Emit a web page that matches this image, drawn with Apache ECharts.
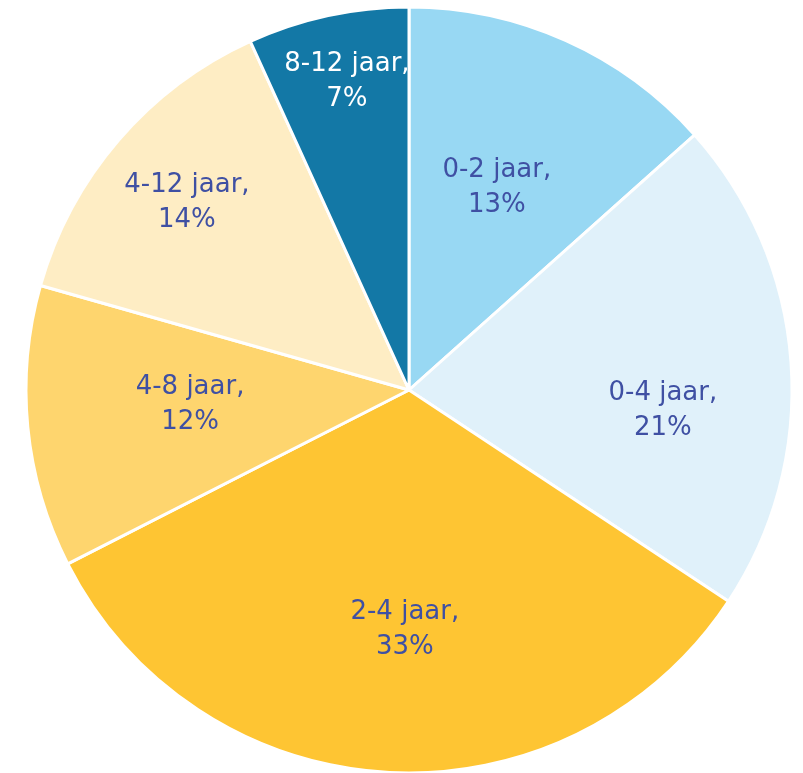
<!DOCTYPE html>
<html>
<head>
<meta charset="utf-8">
<script src="https://cdn.jsdelivr.net/npm/echarts@6/dist/echarts.min.js"></script>
<style>
  html, body { margin: 0; padding: 0; background: #fff; }
  #chart { width: 803px; height: 773px; }
</style>
</head>
<body>
<div id="chart"></div>
<script>
// leeftijdsgroepen, met de klok mee vanaf boven
var categories = ['0-2 jaar', '0-4 jaar', '2-4 jaar', '4-8 jaar', '4-12 jaar', '8-12 jaar']
var values = [13.4, 20.9, 33.2, 11.9, 13.8, 6.8]
var colors = ['#98d8f3', '#e0f1fa', '#fec533', '#fed56e', '#feedc4', '#1378a6']
// labelplek: afstand tot het midden (fractie van de straal) en hoek vanaf boven (graden)
var labelRadius = [0.575, 0.665, 0.627, 0.573, 0.758, 0.82]
var labelAngle = [23.5, 94.7, 181, 266.1, 310.1, 348.6]

var cx = 409, cy = 390, R = 383

var data = []
for (var i = 0; i < categories.length; i++) {
  data.push({
    name: categories[i],
    value: values[i],
    itemStyle: { color: colors[i] },
    label: { color: i === 5 ? '#ffffff' : '#3f50a3' }
  })
}

var chart = echarts.init(document.getElementById('chart'))
chart.setOption({
  animation: false,
  series: [{
    type: 'pie',
    center: [cx, cy],
    radius: [0, R],
    startAngle: 90,
    clockwise: true,
    data: data,
    itemStyle: { borderColor: '#ffffff', borderWidth: 3 },
    label: {
      show: true,
      position: 'inside',
      fontFamily: 'DejaVu Sans',
      fontSize: 26,
      lineHeight: 35,
      align: 'center',
      formatter: function (p) {
        return p.name + ',\n' + Math.round(p.value) + '%'
      }
    },
    labelLine: { show: false },
    labelLayout: function (p) {
      var a = labelAngle[p.dataIndex] * Math.PI / 180
      var d = labelRadius[p.dataIndex] * R
      return {
        x: cx + d * Math.sin(a),
        y: cy - d * Math.cos(a),
        align: 'center',
        verticalAlign: 'middle'
      }
    }
  }]
})
</script>
</body>
</html>
